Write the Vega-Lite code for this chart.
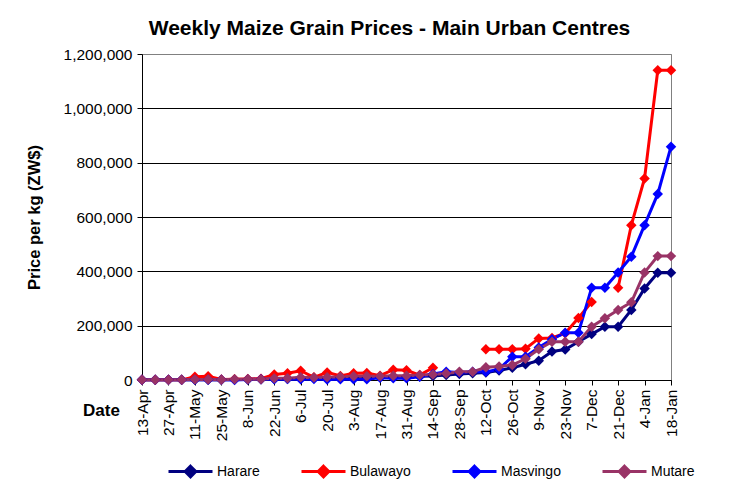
{
  "$schema": "https://vega.github.io/schema/vega-lite/v6.json",
  "autosize": "none",
  "width": 529,
  "height": 326,
  "padding": {"left": 142, "top": 54, "right": 64, "bottom": 110},
  "background": "white",
  "config": {
    "font": "Liberation Sans",
    "view": {"stroke": "#808080", "strokeWidth": 1},
    "axis": {"labelFont": "Liberation Sans", "titleFont": "Liberation Sans", "labelColor": "black", "titleColor": "black", "tickColor": "black", "domainColor": "black"}
  },
  "title": {"text": "Weekly Maize Grain Prices - Main Urban Centres", "font": "Liberation Sans", "fontSize": 21, "fontWeight": "bold", "color": "black", "anchor": "middle", "dx": -17, "offset": 8},
  "data": {"values": [
    {"i": 0, "date": "13-Apr", "Harare": 500, "Bulawayo": 500, "Masvingo": 500, "Mutare": 500},
    {"i": 1, "date": "20-Apr", "Harare": 500, "Bulawayo": 500, "Masvingo": 500, "Mutare": 500},
    {"i": 2, "date": "27-Apr", "Harare": 500, "Bulawayo": 500, "Masvingo": 500, "Mutare": 500},
    {"i": 3, "date": "4-May", "Harare": 500, "Bulawayo": 500, "Masvingo": 500, "Mutare": 500},
    {"i": 4, "date": "11-May", "Harare": 1000, "Bulawayo": 12000, "Masvingo": 1000, "Mutare": 1500},
    {"i": 5, "date": "18-May", "Harare": 1000, "Bulawayo": 14000, "Masvingo": 1000, "Mutare": 1500},
    {"i": 6, "date": "25-May", "Harare": 1000, "Bulawayo": 2000, "Masvingo": 1000, "Mutare": 1000},
    {"i": 7, "date": "1-Jun", "Harare": 1500, "Bulawayo": 3000, "Masvingo": 0, "Mutare": 2500},
    {"i": 8, "date": "8-Jun", "Harare": 2000, "Bulawayo": 4000, "Masvingo": 2000, "Mutare": 3000},
    {"i": 9, "date": "15-Jun", "Harare": 2500, "Bulawayo": 5000, "Masvingo": 2500, "Mutare": 3000},
    {"i": 10, "date": "22-Jun", "Harare": 4000, "Bulawayo": 20000, "Masvingo": 3000, "Mutare": 6000},
    {"i": 11, "date": "29-Jun", "Harare": 5000, "Bulawayo": 25000, "Masvingo": 4000, "Mutare": 6500},
    {"i": 12, "date": "6-Jul", "Harare": 6000, "Bulawayo": 34000, "Masvingo": 3000, "Mutare": 10000},
    {"i": 13, "date": "13-Jul", "Harare": 7000, "Bulawayo": 10000, "Masvingo": 4000, "Mutare": 9000},
    {"i": 14, "date": "20-Jul", "Harare": 7000, "Bulawayo": 28000, "Masvingo": 2000, "Mutare": 10000},
    {"i": 15, "date": "27-Jul", "Harare": 8000, "Bulawayo": 15000, "Masvingo": 3000, "Mutare": 12000},
    {"i": 16, "date": "3-Aug", "Harare": 9000, "Bulawayo": 25000, "Masvingo": 3000, "Mutare": 14000},
    {"i": 17, "date": "10-Aug", "Harare": 9000, "Bulawayo": 26000, "Masvingo": 3000, "Mutare": 14000},
    {"i": 18, "date": "17-Aug", "Harare": 10000, "Bulawayo": 16000, "Masvingo": 8000, "Mutare": 14000},
    {"i": 19, "date": "24-Aug", "Harare": 11000, "Bulawayo": 38000, "Masvingo": 6000, "Mutare": 16000},
    {"i": 20, "date": "31-Aug", "Harare": 12000, "Bulawayo": 36000, "Masvingo": 6000, "Mutare": 16000},
    {"i": 21, "date": "7-Sep", "Harare": 14000, "Bulawayo": 18000, "Masvingo": 12000, "Mutare": 18000},
    {"i": 22, "date": "14-Sep", "Harare": 15000, "Bulawayo": 45000, "Masvingo": 22000, "Mutare": 20000},
    {"i": 23, "date": "21-Sep", "Harare": 18000, "Bulawayo": null, "Masvingo": 30000, "Mutare": 24000},
    {"i": 24, "date": "28-Sep", "Harare": 22000, "Bulawayo": null, "Masvingo": 28000, "Mutare": 30000},
    {"i": 25, "date": "5-Oct", "Harare": 25000, "Bulawayo": null, "Masvingo": 30000, "Mutare": 30000},
    {"i": 26, "date": "12-Oct", "Harare": 28000, "Bulawayo": 113000, "Masvingo": 30000, "Mutare": 47000},
    {"i": 27, "date": "19-Oct", "Harare": 35000, "Bulawayo": 113000, "Masvingo": 40000, "Mutare": 50000},
    {"i": 28, "date": "26-Oct", "Harare": 45000, "Bulawayo": 113000, "Masvingo": 86000, "Mutare": 55000},
    {"i": 29, "date": "2-Nov", "Harare": 58000, "Bulawayo": 115000, "Masvingo": 86000, "Mutare": 78000},
    {"i": 30, "date": "9-Nov", "Harare": 71000, "Bulawayo": 153000, "Masvingo": 120000, "Mutare": 113000},
    {"i": 31, "date": "16-Nov", "Harare": 105000, "Bulawayo": 155000, "Masvingo": 150000, "Mutare": 141000},
    {"i": 32, "date": "23-Nov", "Harare": 112000, "Bulawayo": 172000, "Masvingo": 174000, "Mutare": 141000},
    {"i": 33, "date": "30-Nov", "Harare": 141000, "Bulawayo": 228000, "Masvingo": 174000, "Mutare": 141000},
    {"i": 34, "date": "7-Dec", "Harare": 169000, "Bulawayo": 287000, "Masvingo": 340000, "Mutare": 196000},
    {"i": 35, "date": "14-Dec", "Harare": 196000, "Bulawayo": null, "Masvingo": 340000, "Mutare": 227000},
    {"i": 36, "date": "21-Dec", "Harare": 196000, "Bulawayo": 340000, "Masvingo": 396000, "Mutare": 258000},
    {"i": 37, "date": "28-Dec", "Harare": 258000, "Bulawayo": 570000, "Masvingo": 454000, "Mutare": 286000},
    {"i": 38, "date": "4-Jan", "Harare": 337000, "Bulawayo": 742000, "Masvingo": 570000, "Mutare": 396000},
    {"i": 39, "date": "11-Jan", "Harare": 395000, "Bulawayo": 1140000, "Masvingo": 685000, "Mutare": 456000},
    {"i": 40, "date": "18-Jan", "Harare": 395000, "Bulawayo": 1140000, "Masvingo": 859000, "Mutare": 456000}
  ]},
  "transform": [{"fold": ["Harare", "Bulawayo", "Masvingo", "Mutare"], "as": ["city", "price"]}],
  "encoding": {
    "x": {
      "field": "date", "type": "ordinal",
      "scale": {"type": "point", "padding": 0, "domain": ["13-Apr","20-Apr","27-Apr","4-May","11-May","18-May","25-May","1-Jun","8-Jun","15-Jun","22-Jun","29-Jun","6-Jul","13-Jul","20-Jul","27-Jul","3-Aug","10-Aug","17-Aug","24-Aug","31-Aug","7-Sep","14-Sep","21-Sep","28-Sep","5-Oct","12-Oct","19-Oct","26-Oct","2-Nov","9-Nov","16-Nov","23-Nov","30-Nov","7-Dec","14-Dec","21-Dec","28-Dec","4-Jan","11-Jan","18-Jan"]},
      "axis": {
        "values": ["13-Apr","27-Apr","11-May","25-May","8-Jun","22-Jun","6-Jul","20-Jul","3-Aug","17-Aug","31-Aug","14-Sep","28-Sep","12-Oct","26-Oct","9-Nov","23-Nov","7-Dec","21-Dec","4-Jan","18-Jan"],
        "labelAngle": -90, "labelFontSize": 15.5, "labelPadding": 4, "tickSize": 5, "labelOverlap": false,
        "grid": false, "title": "Date", "titleFontSize": 17, "titleFontWeight": "bold",
        "titleX": -41, "titleY": 30, "titleAlign": "center", "titleBaseline": "middle", "titleAngle": 0
      }
    },
    "y": {
      "field": "price", "type": "quantitative",
      "scale": {"domain": [0, 1200000], "nice": false},
      "axis": {
        "values": [0, 200000, 400000, 600000, 800000, 1000000, 1200000],
        "format": ",d", "labelFontSize": 15.5, "tickSize": 5, "labelPadding": 5,
        "grid": true, "gridColor": {"condition": {"test": "datum.value >= 1200000", "value": "#808080"}, "value": "black"}, "gridWidth": 1,
        "title": "Price per kg (ZW$)", "titleFontSize": 16.5, "titleFontWeight": "bold", "titlePadding": 21
      }
    },
    "color": {
      "field": "city", "type": "nominal",
      "scale": {"domain": ["Harare", "Bulawayo", "Masvingo", "Mutare"], "range": ["#000080", "#FF0000", "#0000FF", "#993366"]},
      "legend": {
        "title": null, "orient": "none", "legendX": 25, "legendY": 394, "direction": "horizontal",
        "symbolType": "M-1,0H1M0,-0.24L0.24,0L0,0.24L-0.24,0Z", "symbolSize": 1936, "symbolStrokeWidth": 3,
        "labelFontSize": 14, "labelColor": "black", "labelOffset": 3, "gridAlign": "none", "columnPadding": 35
      }
    },
    "order": {"field": "i", "type": "quantitative"}
  },
  "layer": [
    {"mark": {"type": "line", "strokeWidth": 3, "invalid": "break-paths-show-domains"}},
    {"mark": {"type": "point", "shape": "diamond", "filled": true, "opacity": 1, "size": 110}}
  ]
}
